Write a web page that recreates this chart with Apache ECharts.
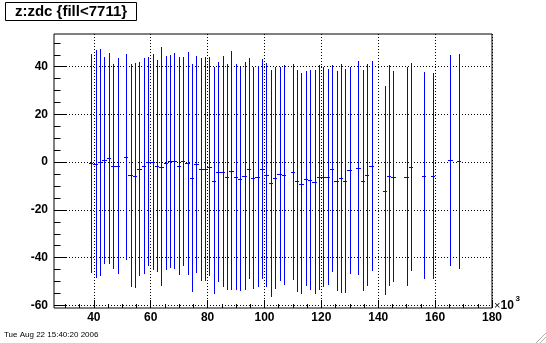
<!DOCTYPE html>
<html>
<head>
<meta charset="utf-8">
<script src="https://cdn.jsdelivr.net/npm/echarts@6/dist/echarts.min.js"></script>
<style>
html,body{margin:0;padding:0;background:#fff;}
#chart{width:546px;height:343px;}
</style>
</head>
<body>
<div id="chart"></div>
<script>
// ---- data (x in units of 10^3) ----
const binCenters = [39.09, 40.63, 42.17, 43.71, 45.25, 46.79, 48.33, 51.41, 52.95, 54.49,
  56.03, 57.57, 59.11, 60.65, 62.19, 63.73, 65.27, 66.81, 68.35, 69.89,
  71.43, 72.97, 74.51, 76.05, 77.59, 79.13, 80.67, 82.21, 83.75, 85.29,
  86.83, 88.37, 89.91, 91.45, 92.99, 94.53, 96.07, 97.61, 99.15, 100.69,
  102.23, 103.77, 105.31, 106.85, 109.93, 111.47, 113.01, 114.55, 116.09, 117.63,
  119.17, 120.71, 122.25, 123.79, 125.33, 126.87, 128.41, 129.95, 133.03, 134.57,
  136.11, 137.65, 142.27, 143.81, 145.35, 149.97, 151.51, 156.13, 159.21, 165.37,
  168.45];
const means = [-0.4, -0.8, -0.1, 0.7, 1.6, -1.7, -1.7, 2.1, -5.5, -5.6,
  -2.9, -1.7, 0.2, 0.1, -1.7, -1.9, -0.5, 0.3, 0.5, -1.5,
  0.3, -0.4, -6.7, -0.9, -3.0, -2.7, -2.0, -7.7, -4.1, -4.0,
  -6.3, -3.5, -6.1, -7.2, -5.7, -2.7, -6.8, -6.1, -2.8, -5.4,
  -8.9, -6.8, -5.1, -5.4, -4.2, -7.9, -9.0, -7.0, -7.5, -8.2,
  -6.3, -6.3, -6.3, -2.7, -8.0, -6.8, -7.9, -3.4, -2.6, -7.7,
  -5.4, -1.7, -11.9, -5.6, -6.1, -6.1, -2.1, -5.6, -5.9, 0.8,
  0.4];
const errors = [45.9, 47.8, 47.6, 43.5, 44.3, 42.9, 45.3, 43.2, 46.6, 47.3,
  45.0, 45.3, 43.9, 45.2, 44.5, 50.1, 44.8, 44.6, 45.1, 45.6,
  43.9, 46.7, 47.8, 45.4, 46.6, 46.9, 45.9, 47.4, 45.9, 48.4,
  47.4, 50.2, 47.3, 46.9, 47.7, 46.4, 46.5, 46.2, 46.0, 46.9,
  47.6, 46.5, 44.8, 46.2, 45.3, 46.5, 46.4, 45.0, 46.2, 46.9,
  47.1, 46.0, 45.3, 43.4, 46.1, 48.0, 46.9, 43.4, 44.8, 46.4,
  46.6, 44.0, 43.9, 46.4, 44.1, 45.9, 43.7, 43.4, 43.2, 44.1,
  45.0];
const binWidth = 1.54;
const xRange = [26, 180];
const yRange = [-61.1, 53.7];
const xMajorTicks = [40, 60, 80, 100, 120, 140, 160, 180];
const xMinorTicks = [30, 35, 45, 50, 55, 65, 70, 75, 85, 90, 95, 105, 110, 115, 125, 130, 135, 145, 150, 155, 165, 170, 175];
const yMajorTicks = [-60, -40, -20, 0, 20, 40];
const yMinorTicks = [-55, -50, -45, -35, -30, -25, -15, -10, -5, 5, 10, 15, 25, 30, 35, 45, 50];
const titleText = 'z:zdc {fill<7711}';
const dateText = 'Tue Aug 22 15:40:20 2006';

const FONT = "'Liberation Sans', Arial, Helvetica, sans-serif";
const data = binCenters.map((x, i) => [x, means[i], errors[i]]);

function renderItem(params, api) {
  const x = api.value(0), m = api.value(1), e = api.value(2);
  const top = api.coord([x, m + e]);
  const bot = api.coord([x, m - e]);
  const l = api.coord([x - binWidth / 2, m]);
  const r = api.coord([x + binWidth / 2, m]);
  const cx = Math.round(top[0]) + 0.5;
  const cy = Math.round(l[1]) + 0.5;
  const st = { stroke: '#0000ff', lineWidth: 1 };
  return {
    type: 'group',
    children: [
      { type: 'line', shape: { x1: cx, y1: Math.round(top[1]), x2: cx, y2: Math.round(bot[1]) }, style: st },
      { type: 'line', shape: { x1: Math.round(l[0]), y1: cy, x2: Math.round(r[0]), y2: cy }, style: st }
    ]
  };
}

const gridLine = { show: true, lineStyle: { color: '#000', width: 1, type: [1, 2] } };
const labelStyle = { color: '#000', fontFamily: FONT, fontWeight: 'bold', fontSize: 12 };
const noLine = { show: false, onZero: false };

const chart = echarts.init(document.getElementById('chart'), null, { renderer: 'canvas' });
chart.setOption({
  animation: false,
  backgroundColor: '#fff',
  grid: { left: 54, top: 34, width: 438, height: 274, show: true, borderColor: '#000', borderWidth: 1, backgroundColor: '#fff' },
  xAxis: [
    {
      type: 'value', min: xRange[0], max: xRange[1], position: 'bottom',
      axisLine: noLine,
      axisTick: { show: true, inside: true, length: 8, customValues: xMajorTicks, lineStyle: { color: '#000' } },
      axisLabel: Object.assign({ show: true, margin: 4, customValues: xMajorTicks, showMinLabel: true, showMaxLabel: true }, labelStyle),
      splitLine: gridLine
    },
    {
      type: 'value', min: xRange[0], max: xRange[1], position: 'bottom',
      axisLine: noLine,
      axisTick: { show: true, inside: true, length: 4, customValues: xMinorTicks, lineStyle: { color: '#000' } },
      axisLabel: { show: false },
      splitLine: { show: false }
    }
  ],
  yAxis: [
    {
      type: 'value', min: yRange[0], max: yRange[1], position: 'left',
      axisLine: noLine,
      axisTick: { show: true, inside: true, length: 13, customValues: yMajorTicks, lineStyle: { color: '#000' } },
      axisLabel: Object.assign({ show: true, margin: 6, customValues: yMajorTicks }, labelStyle),
      splitLine: gridLine
    },
    {
      type: 'value', min: yRange[0], max: yRange[1], position: 'left',
      axisLine: noLine,
      axisTick: { show: true, inside: true, length: 6.5, customValues: yMinorTicks, lineStyle: { color: '#000' } },
      axisLabel: { show: false },
      splitLine: { show: false }
    }
  ],
  series: [{
    type: 'custom',
    xAxisIndex: 0, yAxisIndex: 0,
    renderItem: renderItem,
    encode: { x: 0, y: 1 },
    data: data,
    clip: true
  }],
  graphic: [
    { type: 'rect', shape: { x: 5.5, y: 2.5, width: 131, height: 18 }, style: { fill: '#fff', stroke: '#000', lineWidth: 1 } },
    { type: 'text', x: 71, y: 12, style: { text: titleText, fill: '#000', font: 'bold 15px ' + FONT, align: 'center', verticalAlign: 'middle' } },
    { type: 'text', x: 494, y: 306, style: { text: '×', fill: '#000', font: '11px ' + FONT, align: 'left', verticalAlign: 'middle' } },
    { type: 'text', x: 500.5, y: 306, style: { text: '10', fill: '#000', font: 'bold 12px ' + FONT, align: 'left', verticalAlign: 'middle' } },
    { type: 'text', x: 515.5, y: 299, style: { text: '3', fill: '#000', font: 'bold 8px ' + FONT, align: 'left', verticalAlign: 'middle' } },
    { type: 'text', x: 4, y: 335, style: { text: dateText, fill: '#000', font: '8px ' + FONT, align: 'left', verticalAlign: 'middle' } },
    { type: 'line', shape: { x1: 536, y1: 343, x2: 546, y2: 333 }, style: { stroke: '#b0b0b0', lineWidth: 1 } },
    { type: 'line', shape: { x1: 540, y1: 343, x2: 546, y2: 337 }, style: { stroke: '#b0b0b0', lineWidth: 1 } }
  ]
});
</script>
</body>
</html>
